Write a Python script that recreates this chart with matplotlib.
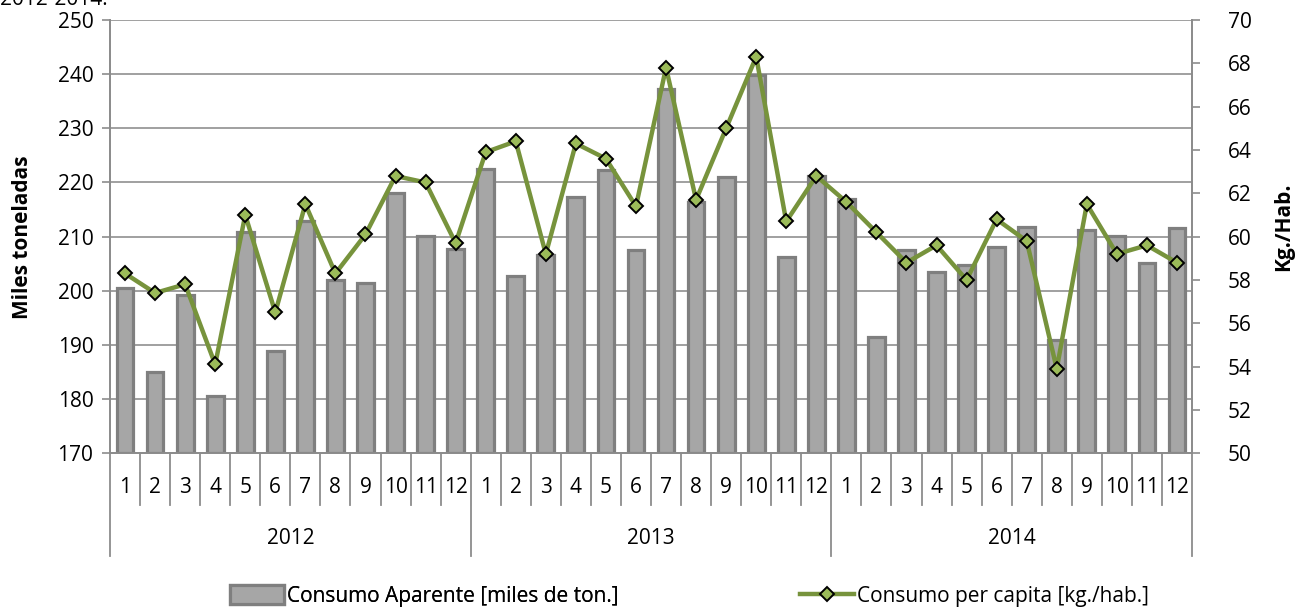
import matplotlib
matplotlib.use("Agg")
import matplotlib.pyplot as plt
import numpy as np
from matplotlib.patches import Patch
from matplotlib.lines import Line2D
import matplotlib.transforms as mtransforms

plt.rcParams['font.family'] = ['Open Sans', 'DejaVu Sans']

years = ["2012", "2013", "2014"]
months = ["1", "2", "3", "4", "5", "6", "7", "8", "9", "10", "11", "12"]

consumo_aparente = [
    200.5, 185.1, 199.3, 180.6, 210.8, 188.9, 212.8, 202.0, 201.4, 218.0, 210.1, 207.8,
    222.4, 202.8, 206.6, 217.3, 222.3, 207.6, 237.3, 216.4, 221.0, 239.8, 206.2, 221.2,
    217.0, 191.5, 207.6, 203.5, 204.8, 208.1, 211.8, 190.9, 211.3, 210.2, 205.2, 211.6,
]
consumo_per_capita = [
    58.3, 57.4, 57.8, 54.1, 61.0, 56.5, 61.5, 58.3, 60.1, 62.8, 62.5, 59.7,
    63.9, 64.4, 59.2, 64.3, 63.6, 61.4, 67.8, 61.7, 65.0, 68.3, 60.7, 62.8,
    61.6, 60.2, 58.8, 59.6, 58.0, 60.8, 59.8, 53.9, 61.5, 59.2, 59.6, 58.8,
]

left_ticks = [170, 180, 190, 200, 210, 220, 230, 240, 250]
right_ticks = [50, 52, 54, 56, 58, 60, 62, 64, 66, 68, 70]

W, H = 1297, 609
fig = plt.figure(figsize=(W / 100, H / 100), dpi=100)
ax = fig.add_axes([110 / W, 1 - 453.3 / H, (1192 - 110) / W, (453.3 - 20) / H])
ax2 = ax.twinx()

n = len(consumo_aparente)
x = np.arange(n)
gray_axis = "#8C8C8C"
fs = 15

vals = np.array(consumo_aparente)
ax.bar(x, vals - left_ticks[0], bottom=left_ticks[0], width=0.56,
       color="#A6A6A6", edgecolor="#7F7F7F", linewidth=2.3, zorder=3)
ax.set_ylim(left_ticks[0], left_ticks[-1])
ax.set_xlim(-0.5, n - 0.5)
ax.set_yticks(left_ticks)
ax.set_yticklabels([str(t) for t in left_ticks], fontsize=fs)
ax.yaxis.grid(True, color="#A0A0A0", linewidth=1.4, zorder=0)
ax.set_axisbelow(True)
ax.tick_params(axis='y', direction='out', length=6, width=1.2, color=gray_axis, pad=6)
ax.set_xticks([])

ax2.plot(x, consumo_per_capita, color="#77933C", linewidth=3.2, marker='D',
         markersize=6.8, markerfacecolor="#9BBB59", markeredgecolor="black",
         markeredgewidth=1.4, zorder=5)
ax2.set_ylim(right_ticks[0], right_ticks[-1])
ax2.set_yticks(right_ticks)
ax2.set_yticklabels([str(t) for t in right_ticks], fontsize=fs)
ax2.tick_params(axis='y', direction='out', length=6, width=1.2, color=gray_axis, pad=20)
ax2.set_xticks([])

for a in (ax, ax2):
    a.spines['top'].set_visible(False)
    for s in ('left', 'right', 'bottom'):
        a.spines[s].set_color(gray_axis)
        a.spines[s].set_linewidth(1.3)

fig.text(23 / W, 1 - 237 / H, "Miles toneladas", fontsize=fs, fontweight='bold',
         rotation=90, ha='center', va='center')
fig.text(1284 / W, 1 - 227 / H, "Kg./Hab.", fontsize=fs, fontweight='bold',
         rotation=90, ha='center', va='center')

# two-level category axis
trans = mtransforms.blended_transform_factory(ax.transData, ax.transAxes)
y_month = -0.080
y_year = -0.196
y_msep = -0.119
y_ysep = -0.237
for i in range(n):
    ax.text(x[i], y_month, months[i % 12], transform=trans, ha='center', va='center',
            fontsize=fs)
for b in range(n + 1):
    xb = b - 0.5
    yb = y_ysep if b % 12 == 0 else y_msep
    ax.plot([xb, xb], [0, yb], transform=trans, color=gray_axis, linewidth=1.3,
            clip_on=False, zorder=1)
for k, yr in enumerate(years):
    ax.text(k * 12 + 5.5, y_year, yr, transform=trans, ha='center', va='center',
            fontsize=fs)

# legend (two entries placed like the reference)
h_bar = Patch(facecolor="#A6A6A6", edgecolor="#7F7F7F", linewidth=2.3)
h_line = Line2D([0], [0], color="#77933C", linewidth=3.2, marker='D', markersize=6.8,
                markerfacecolor="#9BBB59", markeredgecolor="black", markeredgewidth=1.4)
leg_kw = dict(loc='center left', frameon=False, fontsize=fs, handlelength=2.6,
              handletextpad=0.15, borderpad=0, borderaxespad=0, handleheight=1.0)
leg1 = fig.legend([h_bar], ["Consumo Aparente [miles de ton.]"],
                  bbox_to_anchor=(230 / W, 1 - 596 / H), **leg_kw)
fig.add_artist(leg1)
fig.legend([h_line], ["Consumo per capita [kg./hab.]"],
           bbox_to_anchor=(800 / W, 1 - 596 / H), **leg_kw)

# cut-off title remnant
fig.text(108 / W, 1 - 5 / H, "Período 2012-2014:", ha='right', va='baseline',
         fontsize=fs)

fig.savefig("out.png", dpi=100)
